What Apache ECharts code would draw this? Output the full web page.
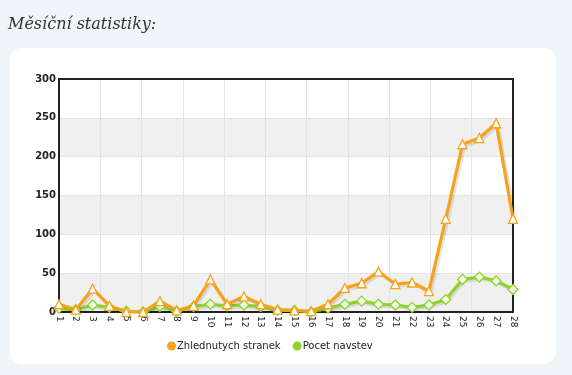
<!DOCTYPE html>
<html><head><meta charset="utf-8">
<script src="https://cdn.jsdelivr.net/npm/echarts@6/dist/echarts.min.js"></script>
<style>html,body{margin:0;padding:0;background:#eef6f9;}#c{width:572px;height:375px;}</style>
</head><body><div id="c"></div>
<script>
var days = ['1','2','3','4','5','6','7','8','9','10','11','12','13','14','15','16','17','18','19','20','21','22','23','24','25','26','27','28'];
var pageViews = [10,3,30,8,0,0,14,2,8,42,10,20,10,3,2,1,10,31,37,52,36,38,27,120,216,224,243,120];
var visits = [5,3,9,6,1,0,7,1,7,10,8,9,7,2,2,0,5,10,14,10,9,6,9,16,42,45,40,29];
var seriesNames = ['Zhlednutych stranek','Pocet navstev'];
var seriesColors = ['#f7a21b','#8dd42a'];
var titleText = 'Měsíční statistiky:';

var chart = echarts.init(document.getElementById('c'), null, {renderer:'canvas'});
var lbl = {fontFamily:'DejaVu Sans', fontSize:9, color:'#222'};
var frame = {show:true, onZero:false, lineStyle:{color:'#222', width:2}};
chart.setOption({
  backgroundColor:'#eef6f9',
  animation:false,
  title:{text:titleText, left:8, top:17, padding:0, textStyle:{fontFamily:'DejaVu Serif', fontStyle:'italic', fontWeight:'normal', fontSize:16, color:'#333'}},
  graphic:[{type:'rect', z:-10, shape:{x:10,y:48,width:546,height:316,r:12}, style:{fill:'#ffffff'}}],
  legend:{top:336, left:162, itemWidth:9, itemHeight:9, itemGap:12, icon:'circle',
    textStyle:{fontFamily:'DejaVu Sans', fontSize:10, color:'#222', padding:[0,0,0,-4]},
    data:[{name:seriesNames[0], itemStyle:{color:seriesColors[0], borderWidth:0}},
          {name:seriesNames[1], itemStyle:{color:seriesColors[1], borderWidth:0}}]},
  grid:{left:59, right:59, top:79, bottom:63},
  xAxis:[{type:'category', data:days, boundaryGap:false,
    axisLine:frame, axisTick:{show:false},
    axisLabel:Object.assign({rotate:-90, margin:4, interval:0, align:'left', verticalAlign:'middle'}, lbl),
    splitLine:{show:false}},
    {type:'value', min:0, max:11, interval:1, position:'top',
     axisLine:frame, axisTick:{show:false}, axisLabel:{show:false},
     splitLine:{show:true, lineStyle:{color:'#e4e4e4', width:1}}}],
  yAxis:[{type:'value', min:0, max:300, interval:50,
    axisLine:frame, axisTick:{show:false},
    axisLabel:Object.assign({margin:3, fontWeight:'bold'}, lbl, {fontSize:10}),
    splitLine:{show:true, lineStyle:{color:'#e4e4e4'}},
    splitArea:{show:true, areaStyle:{color:['#f0f0f0','#ffffff']}}},
    {type:'value', min:0, max:300, interval:50, position:'right',
     axisLine:frame, axisTick:{show:false}, axisLabel:{show:false}, splitLine:{show:false}}],
  series:[
    {name:seriesNames[0], type:'line', data:pageViews, symbol:'triangle', symbolSize:9,
     lineStyle:{color:seriesColors[0], width:3.2, shadowColor:'rgba(0,0,0,0.1)', shadowBlur:0, shadowOffsetX:2, shadowOffsetY:2},
     itemStyle:{color:'#ffffff', borderColor:seriesColors[0], borderWidth:1.3}, color:seriesColors[0], z:3},
    {name:seriesNames[1], type:'line', data:visits, symbol:'diamond', symbolSize:10,
     lineStyle:{color:seriesColors[1], width:3.2, shadowColor:'rgba(0,0,0,0.1)', shadowBlur:0, shadowOffsetX:2, shadowOffsetY:2},
     itemStyle:{color:'#f4fbe8', borderColor:seriesColors[1], borderWidth:1.3}, color:seriesColors[1], z:2}
  ]
});
</script></body></html>
